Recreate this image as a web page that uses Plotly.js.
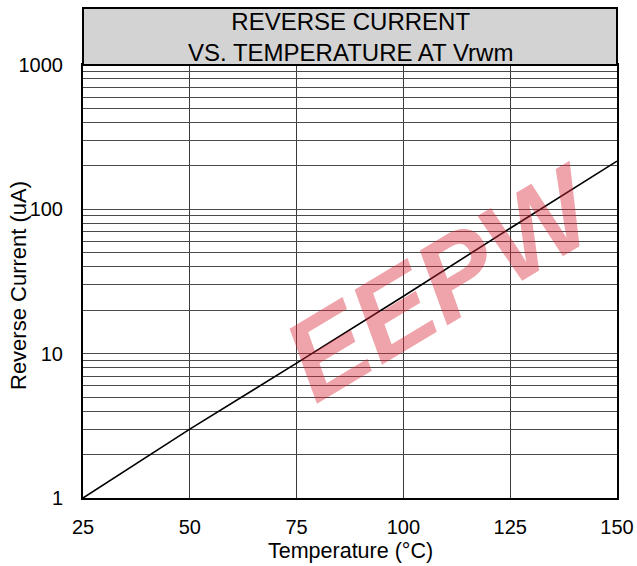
<!DOCTYPE html>
<html>
<head>
<meta charset="utf-8">
<script src="https://cdn.plot.ly/plotly-3.0.1.min.js"></script>
<style>
  html, body { margin: 0; padding: 0; background: #fff; }
  #chart { width: 637px; height: 566px; }
</style>
</head>
<body>
<div id="chart"></div>
<script>
// ---- data ----
const temperatures = [25, 50, 75, 100, 125, 150];
const reverseCurrent = [1, 3, 8.6, 25, 74, 216];
const xTickVals = [25, 50, 75, 100, 125, 150];
const yDecades = [1, 10, 100, 1000];
const yDecadeLabels = ["1", "10", "100", "1000"];
const titleLines = ["REVERSE CURRENT", "VS. TEMPERATURE AT Vrwm"];
const xTitle = "Temperature (°C)";
const yTitle = "Reverse Current (uA)";
const watermark = "EEPW";

// grid positions for a log axis: 1..9 times each decade
const yTickVals = [];
const yTickText = [];
for (let i = 0; i < yDecades.length; i++) {
  const d = yDecades[i];
  if (i === yDecades.length - 1) { yTickVals.push(d); yTickText.push(yDecadeLabels[i]); break; }
  for (let k = 1; k <= 9; k++) {
    yTickVals.push(k * d);
    yTickText.push(k === 1 ? yDecadeLabels[i] : "");
  }
}

const FONT = "'Liberation Sans', Arial, Helvetica, sans-serif";
const PLOT_W = 534, PLOT_H = 433, ML = 83, MT = 65;
const px = (x) => (x - ML) / PLOT_W;            // pixel x -> paper x
const py = (y) => (MT + PLOT_H - y) / PLOT_H;   // pixel y -> paper y

const trace = {
  x: temperatures,
  y: reverseCurrent,
  type: "scatter",
  mode: "lines",
  line: { color: "#000", width: 1.6 },
  hoverinfo: "skip",
  cliponaxis: true
};

const layout = {
  width: 637,
  height: 566,
  margin: { l: ML, r: 20, t: MT, b: 68, pad: 0 },
  paper_bgcolor: "#fff",
  plot_bgcolor: "#fff",
  showlegend: false,
  font: { family: FONT, color: "#000", size: 20 },
  xaxis: {
    range: [25, 150],
    tickmode: "array",
    tickvals: xTickVals,
    ticks: "",
    showgrid: true,
    gridcolor: "#3a3a3a",
    gridwidth: 1,
    zeroline: false,
    showline: true,
    mirror: true,
    linecolor: "#000",
    linewidth: 2,
    tickfont: { size: 20, family: FONT },
    ticklabelstandoff: 10,
    fixedrange: true
  },
  yaxis: {
    type: "log",
    range: [0, 3],
    tickmode: "array",
    tickvals: yTickVals,
    ticktext: yTickText,
    ticks: "",
    showgrid: true,
    gridcolor: "#4a4a4a",
    gridwidth: 1,
    zeroline: false,
    showline: true,
    mirror: true,
    linecolor: "#000",
    linewidth: 2,
    tickfont: { size: 20, family: FONT },
    ticklabelstandoff: 14,
    fixedrange: true
  },
  shapes: [
    {
      type: "rect",
      xref: "paper", yref: "paper",
      x0: 0, x1: 1, y0: 1, y1: py(8),
      fillcolor: "#d3d3d3",
      line: { color: "#000", width: 2 },
      layer: "above"
    }
  ],
  annotations: [
    {
      xref: "paper", yref: "paper",
      x: 0.5, y: py(37),
      xanchor: "center", yanchor: "middle",
      text: titleLines.join("<br>"),
      showarrow: false,
      font: { size: 24, family: FONT, color: "#000" }
    },
    {
      xref: "paper", yref: "paper",
      x: 0.5, y: py(551),
      xanchor: "center", yanchor: "middle",
      text: xTitle,
      showarrow: false,
      font: { size: 21.5, family: FONT, color: "#000" }
    },
    {
      xref: "paper", yref: "paper",
      x: px(18), y: py(286),
      xanchor: "center", yanchor: "middle",
      text: yTitle,
      textangle: -90,
      showarrow: false,
      font: { size: 22, family: FONT, color: "#000" }
    },
    {
      xref: "paper", yref: "paper",
      x: px(442), y: py(282),
      xanchor: "center", yanchor: "middle",
      text: "<b><i>" + watermark + "</i></b>",
      textangle: -31,
      showarrow: false,
      font: { size: 114, family: FONT, color: "rgba(214,38,52,0.42)" }
    }
  ]
};

Plotly.newPlot("chart", [trace], layout, { staticPlot: true, displayModeBar: false });
</script>
</body>
</html>
